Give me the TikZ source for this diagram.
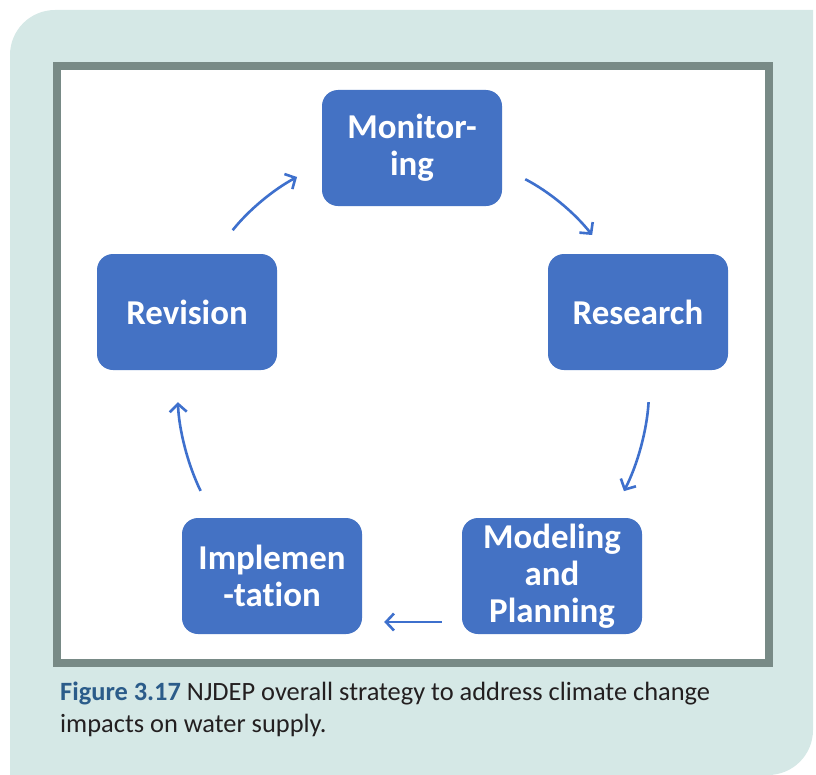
\documentclass[tikz,border=0pt]{standalone}
\usepackage{fontspec}
\setmainfont{Carlito}[Ligatures=NoCommon]
\usetikzlibrary{arrows.meta, positioning}
\definecolor{panel}{RGB}{213,232,230}
\definecolor{frame}{RGB}{120,138,134}
\definecolor{boxblue}{RGB}{68,114,196}
\definecolor{arrowblue}{RGB}{62,112,205}
\definecolor{capblue}{RGB}{43,92,138}
\definecolor{captext}{RGB}{35,31,32}

\begin{document}
\begin{tikzpicture}[x=1bp,y=-1bp,
		stage/.style={draw=none,fill=boxblue,rounded corners=16bp,minimum width=180bp,minimum height=116bp,
			text=white,align=center,font=\bfseries\fontsize{35}{37}\selectfont,inner sep=0pt},
		cycarrow/.style={draw=arrowblue,line width=2.6bp,-{Straight Barb[length=8bp,width=17bp]}}]
			\useasboundingbox (0,0) rectangle (816,775);
			% background panel, rounded top left and bottom right
			\fill[panel] (10,775) -- (10,55) arc[start angle=180,end angle=270,radius=45]
				-- (813,10) -- (813,730) arc[start angle=0,end angle=90,radius=45] -- cycle;
			% frame of the figure
			\draw[frame,line width=8bp,fill=white] (57,66) rectangle (769,663);
			% stages
			\node[stage] (mon) at (412,148) {Monitor-\\ing};
			\node[stage] (res) at (638,312) {Research};
			\node[stage] (mod) at (552,576) {Modeling\\and\\Planning};
			\node[stage] (imp) at (272,576) {Implemen\\-tation};
			\node[stage] (rev) at (187,312) {Revision};
			% cycle arrows
			\draw[cycarrow,shorten <=26bp,shorten >=24bp] (mon.-12) to[bend left=12] (res.118);
			\draw[cycarrow,shorten <=32bp,shorten >=30bp] (res.-78) to[bend left=12] (mod.45);
			\draw[cycarrow,shorten <=20bp,shorten >=22bp] (mod.west|-{0,622}) -- (imp.east|-{0,622});
			\draw[cycarrow,shorten <=30bp,shorten >=32bp] (imp.135) to[bend left=12] (rev.-100);
			\draw[cycarrow,shorten <=30bp,shorten >=28bp] (rev.65) to[bend left=12] (mon.-170);
			% caption
			\node[anchor=base west,align=left,inner sep=0pt,text=captext,font=\fontsize{26.5}{32}\selectfont]
				(cap) at (60,732) {{\bfseries\color{capblue}Figure 3.17} NJDEP overall strategy to address climate change\\impacts on water supply.};
		\end{tikzpicture}
\end{document}
